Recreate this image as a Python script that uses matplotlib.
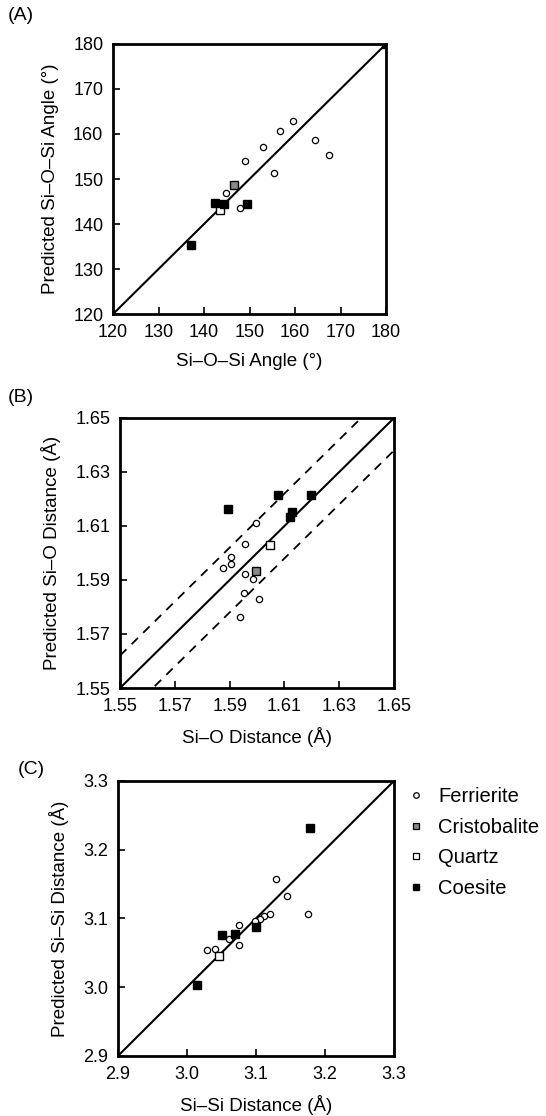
import matplotlib
matplotlib.use("Agg")
import matplotlib.pyplot as plt
from matplotlib.lines import Line2D

plt.rcParams['font.family'] = ['Liberation Sans', 'DejaVu Sans']
plt.rcParams['font.size'] = 13

# --- (A) Si-O-Si angle
a_fer_x = [149.1, 153.0, 156.6, 159.5, 164.5, 167.4, 155.3, 144.8, 148.0]
a_fer_y = [153.9, 157.0, 160.7, 162.8, 158.7, 155.3, 151.4, 147.0, 143.5]
a_cri_x = [146.5]
a_cri_y = [148.6]
a_qtz_x = [143.5]
a_qtz_y = [143.2]
a_coe_x = [142.5, 144.4, 149.4, 137.1, 180.0]
a_coe_y = [144.7, 144.4, 144.4, 135.4, 180.0]

# --- (B) Si-O distance
b_fer_x = [1.5995, 1.5957, 1.5905, 1.5905, 1.5875, 1.5957, 1.5985, 1.5954, 1.6007, 1.5936]
b_fer_y = [1.6112, 1.6033, 1.5984, 1.5960, 1.5943, 1.5923, 1.5904, 1.5852, 1.5831, 1.5763]
b_cri_x = [1.5996]
b_cri_y = [1.5932]
b_qtz_x = [1.6049]
b_qtz_y = [1.6031]
b_coe_x = [1.5895, 1.6078, 1.6129, 1.6120, 1.6197]
b_coe_y = [1.6163, 1.6214, 1.6152, 1.6132, 1.6214]
b_band = 0.012

# --- (C) Si-Si distance
c_fer_x = [3.129, 3.145, 3.176, 3.120, 3.112, 3.106, 3.099, 3.075, 3.075, 3.061, 3.041, 3.029]
c_fer_y = [3.158, 3.133, 3.107, 3.107, 3.103, 3.099, 3.096, 3.090, 3.062, 3.070, 3.056, 3.054]
c_qtz_x = [3.046]
c_qtz_y = [3.045]
c_coe_x = [3.178, 3.051, 3.069, 3.100, 3.014]
c_coe_y = [3.232, 3.076, 3.077, 3.088, 3.003]

panels = [
    dict(rect=[0.207, 0.7186, 0.500, 0.242], lim=(120, 180),
         ticks=[120, 130, 140, 150, 160, 170, 180], fmt="{:.0f}",
         xlabel="Si\u2013O\u2013Si Angle (\u00b0)", ylabel="Predicted Si\u2013O\u2013Si Angle (\u00b0)",
         tag="(A)", tagpos=(8, 15), fer=(a_fer_x, a_fer_y), cri=(a_cri_x, a_cri_y),
         qtz=(a_qtz_x, a_qtz_y), coe=(a_coe_x, a_coe_y), band=None),
    dict(rect=[0.2198, 0.3835, 0.502, 0.242], lim=(1.55, 1.65),
         ticks=[1.55, 1.57, 1.59, 1.61, 1.63, 1.65], fmt="{:.2f}",
         xlabel="Si\u2013O Distance (\u00c5)", ylabel="Predicted Si\u2013O Distance (\u00c5)",
         tag="(B)", tagpos=(8, 398), fer=(b_fer_x, b_fer_y), cri=(b_cri_x, b_cri_y),
         qtz=(b_qtz_x, b_qtz_y), coe=(b_coe_x, b_coe_y), band=b_band),
    dict(rect=[0.216, 0.0538, 0.5055, 0.2464], lim=(2.9, 3.3),
         ticks=[2.9, 3.0, 3.1, 3.2, 3.3], fmt="{:.1f}",
         xlabel="Si\u2013Si Distance (\u00c5)", ylabel="Predicted Si\u2013Si Distance (\u00c5)",
         tag="(C)", tagpos=(18, 770), fer=(c_fer_x, c_fer_y), cri=None,
         qtz=(c_qtz_x, c_qtz_y), coe=(c_coe_x, c_coe_y), band=None),
]

W, H = 546, 1116
fig = plt.figure(figsize=(W / 100, H / 100), dpi=100)

for p in panels:
    ax = fig.add_axes(p["rect"])
    lo, hi = p["lim"]
    ax.plot([lo, hi], [lo, hi], color="black", lw=1.5, zorder=1)
    if p["band"] is not None:
        d = p["band"]
        ax.plot([lo, hi], [lo + d, hi + d], color="black", lw=1.3, ls=(0, (5, 4)), zorder=1)
        ax.plot([lo, hi], [lo - d, hi - d], color="black", lw=1.3, ls=(0, (5, 4)), zorder=1)
    fx, fy = p["fer"]
    ax.plot(fx, fy, "o", ms=4.5, mfc="white", mec="black", mew=0.9, zorder=3)
    if p["cri"] is not None:
        ax.plot(p["cri"][0], p["cri"][1], "s", ms=5.5, mfc="#8a8a8a", mec="black", mew=1.0, zorder=3)
    ax.plot(p["qtz"][0], p["qtz"][1], "s", ms=5.5, mfc="white", mec="black", mew=1.0, zorder=3)
    ax.plot(p["coe"][0], p["coe"][1], "s", ms=6, mfc="black", mec="black", zorder=4)
    ax.set_xlim(lo, hi)
    ax.set_ylim(lo, hi)
    ax.set_xticks(p["ticks"])
    ax.set_yticks(p["ticks"])
    ax.set_xticklabels([p["fmt"].format(t) for t in p["ticks"]])
    ax.set_yticklabels([p["fmt"].format(t) for t in p["ticks"]])
    ax.tick_params(direction="in", length=5, width=1.2, labelsize=13, pad=7)
    for s in ax.spines.values():
        s.set_linewidth(2)
    ax.set_xlabel(p["xlabel"], fontsize=13.5, labelpad=9)
    ax.set_ylabel(p["ylabel"], fontsize=13.5, labelpad=10)
    tx, ty = p["tagpos"]
    fig.text(tx / W, 1 - ty / H, p["tag"], fontsize=14, ha="left", va="center")
    last_ax = ax

handles = [
    Line2D([], [], ls="", marker="o", ms=4, mfc="white", mec="black", mew=0.9),
    Line2D([], [], ls="", marker="s", ms=4.5, mfc="#8a8a8a", mec="black", mew=0.9),
    Line2D([], [], ls="", marker="s", ms=4.5, mfc="white", mec="black", mew=0.9),
    Line2D([], [], ls="", marker="s", ms=4.5, mfc="black", mec="black"),
]
labels = ["Ferrierite", "Cristobalite", "Quartz", "Coesite"]
fig.legend(handles, labels, loc="upper left", bbox_to_anchor=(398 / W, 1 - 779 / H),
           frameon=False, fontsize=14.5, handlelength=1.0, handletextpad=0.6,
           labelspacing=0.58, borderaxespad=0)

fig.savefig("out.png", dpi=100)
